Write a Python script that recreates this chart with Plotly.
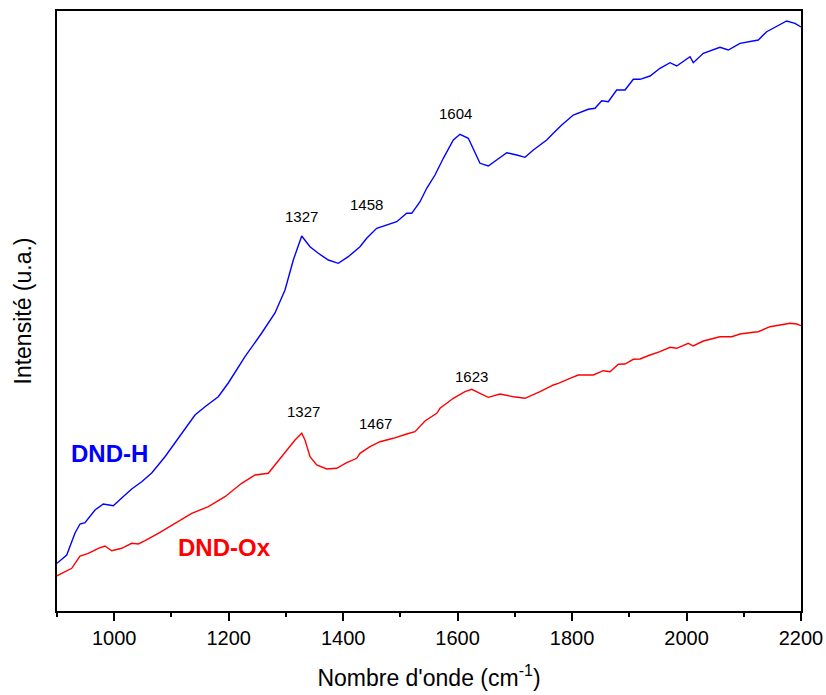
import plotly.graph_objects as go

# --- data (wavenumber in cm-1, intensity in arbitrary units) ---
wn_h = [900, 917, 931.5, 940.2, 948.9, 966.4, 980.9, 998.4, 1013.1, 1030.5, 1048, 1065.5,
        1088.7, 1117.9, 1141.1, 1158.6, 1181.8, 1199.3, 1228.5, 1257.7, 1280.9, 1298.4,
        1312.9, 1327.6, 1342.1, 1356.6, 1374.1, 1391.5, 1409, 1429.4, 1441.1, 1458.6,
        1476.1, 1493.6, 1511, 1519.8, 1534.3, 1546, 1560.5, 1575, 1592.5, 1604.2, 1618.7,
        1627.4, 1639.1, 1653.6, 1668.3, 1685.8, 1703.2, 1717.7, 1732.3, 1755.7, 1767.2,
        1781.9, 1802.1, 1828.3, 1840.1, 1851.8, 1863.3, 1877.9, 1892.5, 1907, 1918.7,
        1936.2, 1953.6, 1971.1, 1982.8, 2006.1, 2011.8, 2029.3, 2058.4, 2073, 2093.4,
        2110.8, 2125.4, 2140, 2163.3, 2175, 2189.5, 2200]
int_h = [47.7, 56, 78, 87, 88.3, 101, 107, 105.3, 113, 122, 129.3, 138,
         154.3, 178, 196, 204.3, 214.3, 228, 254.3, 278, 298, 321,
         351, 375, 364.3, 357.7, 351, 347.7, 354.3, 364.3, 372.7, 382.7,
         386, 389.3, 397.7, 397.7, 409.3, 422.7, 436, 452.7, 471, 476.7, 472.7,
         462.7, 447.7, 445, 451, 458.3, 456, 453.7, 461, 471, 477.7,
         486, 496, 501.7, 502.7, 510.3, 509.3, 521, 521, 531.7, 531.7,
         535, 542.7, 548.3, 545, 554.3, 548.3, 557.7, 563.7, 561, 567.7,
         569.3, 571, 579.3, 586, 590, 587.7, 584]

wn_ox = [900, 902.3, 925.7, 940.2, 954.7, 972.2, 983.9, 995.6, 1013.1, 1030.5, 1042.1, 1053.8,
         1077, 1106.2, 1135.4, 1164.4, 1193.5, 1222.7, 1246, 1269.2, 1280.9, 1298.4,
         1315.9, 1327.6, 1333.3, 1342.1, 1353.8, 1371.3, 1388.7, 1406.2, 1423.7, 1429.4,
         1446.9, 1464.4, 1487.6, 1511, 1525.5, 1543, 1563.5, 1569.2, 1592.5, 1612.9,
         1624.6, 1639.1, 1653.6, 1674.1, 1697.3, 1717.7, 1738.2, 1744, 1761.4, 1767.2,
         1776, 1784.7, 1799.4, 1811, 1837.1, 1854.6, 1866.3, 1880.8, 1892.5, 1907,
         1918.7, 1936.2, 1953.6, 1971.1, 1982.8, 2003.1, 2011.8, 2029.3, 2058.4, 2078.9,
         2093.4, 2116.7, 2125.4, 2145.8, 2163.3, 2180.8, 2192.5, 2200]
int_ox = [35, 36, 42.7, 55, 57.7, 62.7, 65, 60.3, 62.7, 67.7, 67, 70.3,
          77.7, 87.7, 97.7, 104.3, 114.3, 127.7, 136, 137.7, 146, 157.7,
          171, 177.7, 171, 154.3, 146, 142, 142.7, 148.3, 152.7, 157.7,
          164.3, 169.3, 172.7, 177, 179.3, 190, 197.7, 202.7, 212.7, 219.3,
          221.7, 217.7, 213.7, 217, 214.3, 212.7, 217.7, 219.3, 224.3, 226,
          227.7, 230, 233.3, 236, 236, 240.3, 239.3, 246.7, 247, 251.7,
          252, 256, 259.3, 263.7, 262.7, 267.7, 265, 270, 274.3, 274.3,
          277, 278.7, 279.3, 284.3, 286, 287.7, 287, 285.3]

# peak labels: (text, x, y)
peaks_h = [("1327", 1328, 395), ("1458", 1441, 407), ("1604", 1597, 498)]
peaks_ox = [("1327", 1330, 200), ("1467", 1457, 188), ("1623", 1625, 235)]

FONT = "Arial, Liberation Sans, sans-serif"

fig = go.Figure()
fig.add_trace(go.Scatter(x=wn_h, y=int_h, mode="lines", line=dict(color="#0000FF", width=1.4), name="DND-H"))
fig.add_trace(go.Scatter(x=wn_ox, y=int_ox, mode="lines", line=dict(color="#FF0000", width=1.4), name="DND-Ox"))

for txt, x, y in peaks_h + peaks_ox:
    fig.add_annotation(x=x, y=y, text=txt, showarrow=False, font=dict(size=15, color="black", family=FONT))

fig.add_annotation(x=992, y=158, text="<b>DND-H</b>", showarrow=False, font=dict(size=24, color="#0000FF", family=FONT))
fig.add_annotation(x=1192, y=64, text="<b>DND-Ox</b>", showarrow=False, font=dict(size=24, color="#FF0000", family=FONT))

fig.update_layout(
    width=826, height=695,
    margin=dict(l=57, r=25, t=11, b=84),
    plot_bgcolor="white", paper_bgcolor="white",
    showlegend=False,
    font=dict(family=FONT, color="black"),
)
fig.update_xaxes(
    range=[900, 2200], showgrid=False, zeroline=False, automargin=False,
    showline=True, linecolor="black", linewidth=2, mirror=True,
    tickmode="linear", tick0=1000, dtick=200,
    ticks="outside", ticklen=8, tickwidth=1.5, tickcolor="black",
    minor=dict(ticks="outside", ticklen=4, tickwidth=1.5, tickcolor="black", dtick=100, tick0=900),
    tickfont=dict(size=20),
    title=dict(text="Nombre d'onde (cm<sup>-1</sup>)", font=dict(size=23), standoff=22),
)
fig.update_yaxes(
    range=[0, 600], showgrid=False, zeroline=False, automargin=False,
    showline=True, linecolor="black", linewidth=2, mirror=True,
    showticklabels=False, ticks="",
    title=dict(text="Intensité (u.a.)", font=dict(size=23), standoff=17),
)

# drop the page's default body margin so the figure sits at the window's corner
fig.write_html("out.html", config={"displayModeBar": False},
               post_script="document.body.style.margin='0';")
